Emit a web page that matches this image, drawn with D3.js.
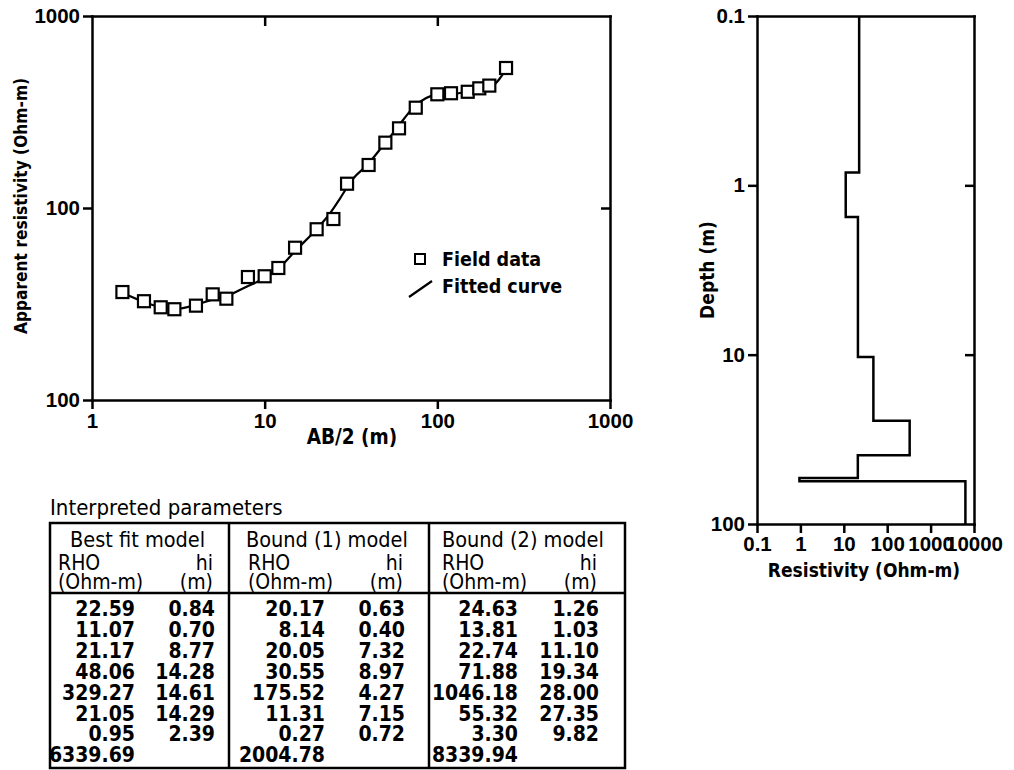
<!DOCTYPE html>
<html><head><meta charset="utf-8">
<script src="https://cdn.jsdelivr.net/npm/d3@7"></script>
<style>
html,body{margin:0;padding:0;background:#fff;}
svg{display:block;}
</style></head><body>
<svg id="fig" width="1014" height="770"></svg>
<script>
// ---- Schlumberger sounding: field data ----
const abHalf = [1.5, 2, 2.5, 3, 4, 5, 6, 8, 10, 12, 15, 20, 25, 30, 40, 50, 60, 75, 100, 120, 150, 175, 200, 250];
const rhoApparent = [36.5, 32.7, 30.4, 29.7, 31.0, 35.5, 33.7, 43.7, 44.1, 48.7, 62.1, 77.5, 87.6, 133.8, 167.5, 218.9, 260, 333, 391, 396, 403, 420, 434, 536];

// ---- fitted model response ----
const fitAB  = [1.47, 2.0, 2.48, 3.06, 4.0, 4.9, 6.05, 7.8, 10.0, 12.3, 15.2, 19.8, 21.8, 23.9, 27.3, 30.0, 32.5, 39.1, 50.4, 58.4, 73.2, 98, 121, 146, 174, 204, 253];
const fitRho = [36.5, 32.4, 30.5, 29.8, 31.3, 33.2, 34.8, 38.8, 43.2, 49.3, 60.4, 76.8, 84.8, 93.8, 112, 128, 142, 167, 221, 261, 336, 388, 392, 402, 417, 428, 536];

const soundingXTicks = [1, 10, 100, 1000];
const soundingXLabels = ["1", "10", "100", "1000"];
const soundingYTicks = [10, 100, 1000];
const soundingYLabels = ["100", "100", "1000"];

// ---- interpreted layered models ----
const bestRho   = [22.59, 11.07, 21.17, 48.06, 329.27, 21.05, 0.95, 6339.69];
const bestH     = [0.84, 0.70, 8.77, 14.28, 14.61, 14.29, 2.39];
const bound1Rho = [20.17, 8.14, 20.05, 30.55, 175.52, 11.31, 0.27, 2004.78];
const bound1H   = [0.63, 0.40, 7.32, 8.97, 4.27, 7.15, 0.72];
const bound2Rho = [24.63, 13.81, 22.74, 71.88, 1046.18, 55.32, 3.30, 8339.94];
const bound2H   = [1.26, 1.03, 11.10, 19.34, 28.00, 27.35, 9.82];

const depthTicks = [0.1, 1, 10, 100];
const depthLabels = ["0.1", "1", "10", "100"];
const resTicks = [0.1, 1, 10, 100, 1000, 10000];
const resLabels = ["0.1", "1", "10", "100", "1000", "10000"];

const modelNames = ["Best fit model", "Bound (1) model", "Bound (2) model"];

// ---- styling ----
const TXT = "'DejaVu Sans Condensed', 'DejaVu Sans', sans-serif";
const NUM = "'Liberation Sans', Arial, sans-serif";
const AXW = 2.5;

const svg = d3.select("#fig");

function styleAxis(g) {
  g.attr("font-family", NUM).attr("font-size", 20.5).attr("font-weight", "bold");
  g.selectAll("path.domain").attr("stroke-width", AXW).attr("stroke-linecap", "square");
  g.selectAll(".tick line").attr("stroke-width", AXW);
  g.selectAll(".tick text").attr("fill", "#000");
}

// ================= Sounding curve =================
const x = d3.scaleLog().domain([1, 1000]).range([92, 610]);
const y = d3.scaleLog().domain([10, 1000]).range([400, 16]);

svg.append("g").attr("transform", "translate(0,400)")
  .call(d3.axisBottom(x).tickValues(soundingXTicks)
    .tickFormat((d, i) => soundingXLabels[i]).tickSize(9).tickSizeOuter(0).tickPadding(4))
  .call(styleAxis);

svg.append("g").attr("transform", "translate(92,0)")
  .call(d3.axisLeft(y).tickValues(soundingYTicks)
    .tickFormat((d, i) => soundingYLabels[i]).tickSize(9).tickSizeOuter(0).tickPadding(3))
  .call(styleAxis);

svg.append("g").attr("transform", "translate(0,16)")
  .call(d3.axisTop(x).tickValues([10, 100]).tickFormat("").tickSize(-10).tickSizeOuter(0))
  .call(styleAxis);

svg.append("g").attr("transform", "translate(610,0)")
  .call(d3.axisRight(y).tickValues([100]).tickFormat("").tickSize(-9).tickSizeOuter(0))
  .call(styleAxis);

const fitted = fitAB.map((a, i) => [a, fitRho[i]]);
svg.append("path")
  .datum(fitted)
  .attr("fill", "none").attr("stroke", "#000").attr("stroke-width", 2.2)
  .attr("d", d3.line().x(d => x(d[0])).y(d => y(d[1])).curve(d3.curveMonotoneX));

const sq = 12;
svg.append("g").selectAll("rect")
  .data(abHalf.map((a, i) => [a, rhoApparent[i]]))
  .join("rect")
  .attr("x", d => x(d[0]) - sq / 2).attr("y", d => y(d[1]) - sq / 2)
  .attr("width", sq).attr("height", sq)
  .attr("fill", "#fff").attr("stroke", "#000").attr("stroke-width", 2.2);

svg.append("text")
  .attr("transform", "translate(27,206) rotate(-90)")
  .attr("text-anchor", "middle")
  .attr("font-family", TXT).attr("font-size", 17.2).attr("font-weight", "bold")
  .text("Apparent resistivity (Ohm-m)");

svg.append("text")
  .attr("x", 352).attr("y", 444)
  .attr("text-anchor", "middle")
  .attr("font-family", TXT).attr("font-size", 20.5).attr("font-weight", "bold")
  .text("AB/2 (m)");

// legend
const leg = svg.append("g").attr("font-family", TXT).attr("font-size", 19.5).attr("font-weight", "bold");
leg.append("rect").attr("x", 415).attr("y", 254).attr("width", 10).attr("height", 10)
  .attr("fill", "#fff").attr("stroke", "#000").attr("stroke-width", 2);
leg.append("text").attr("x", 442).attr("y", 266).text("Field data");
leg.append("line").attr("x1", 409).attr("y1", 297).attr("x2", 432).attr("y2", 281)
  .attr("stroke", "#000").attr("stroke-width", 2.2);
leg.append("text").attr("x", 442).attr("y", 293).text("Fitted curve");

// ================= Layered earth model =================
const xr = d3.scaleLog().domain([0.1, 10000]).range([757, 974]);
const yr = d3.scaleLog().domain([0.1, 100]).range([16, 524]);

svg.append("g").attr("transform", "translate(0,524)")
  .call(d3.axisBottom(xr).tickValues(resTicks)
    .tickFormat((d, i) => resLabels[i]).tickSize(9).tickSizeOuter(0).tickPadding(3))
  .call(styleAxis);

svg.append("g").attr("transform", "translate(757,0)")
  .call(d3.axisLeft(yr).tickValues(depthTicks)
    .tickFormat((d, i) => depthLabels[i]).tickSize(9).tickSizeOuter(0).tickPadding(3))
  .call(styleAxis);

svg.append("g").attr("transform", "translate(0,16)")
  .call(d3.axisTop(xr).tickValues([]).tickSizeOuter(0))
  .call(styleAxis);

svg.append("g").attr("transform", "translate(974,0)")
  .call(d3.axisRight(yr).tickValues([1, 10]).tickFormat("").tickSize(-9).tickSizeOuter(0))
  .call(styleAxis);

// step profile of the best fit model
const depths = Array.from(d3.cumsum(bestH));
const tops = [0.1, ...depths];
const bottoms = [...depths, 100];
const profile = [];
bestRho.forEach((r, i) => { profile.push([r, tops[i]]); profile.push([r, bottoms[i]]); });
svg.append("path")
  .datum(profile)
  .attr("fill", "none").attr("stroke", "#000").attr("stroke-width", 2.5)
  .attr("stroke-linejoin", "miter")
  .attr("d", d3.line().x(d => xr(d[0])).y(d => yr(d[1])));

svg.append("text")
  .attr("transform", "translate(714,270) rotate(-90)")
  .attr("text-anchor", "middle")
  .attr("font-family", TXT).attr("font-size", 19).attr("font-weight", "bold")
  .text("Depth (m)");

svg.append("text")
  .attr("x", 864).attr("y", 577)
  .attr("text-anchor", "middle")
  .attr("font-family", TXT).attr("font-size", 19).attr("font-weight", "bold")
  .text("Resistivity (Ohm-m)");

// ================= Parameter table =================
svg.append("text").attr("x", 50).attr("y", 515)
  .attr("font-family", TXT).attr("font-size", 22)
  .text("Interpreted parameters");

const tbl = svg.append("g");
const tLeft = 50, tRight = 625, tTop = 523, tBottom = 768, tHead = 593;
const colEdges = [tLeft, 229, 429, tRight];
tbl.append("rect").attr("x", tLeft).attr("y", tTop)
  .attr("width", tRight - tLeft).attr("height", tBottom - tTop)
  .attr("fill", "none").attr("stroke", "#000").attr("stroke-width", 2.5);
tbl.selectAll("line.col").data(colEdges.slice(1, 3)).join("line")
  .attr("x1", d => d).attr("x2", d => d).attr("y1", tTop).attr("y2", tBottom)
  .attr("stroke", "#000").attr("stroke-width", 2.5);
tbl.append("line").attr("x1", tLeft).attr("x2", tRight).attr("y1", tHead).attr("y2", tHead)
  .attr("stroke", "#000").attr("stroke-width", 2.5);

const models = [
  { rho: bestRho, h: bestH, name: modelNames[0], nameX: 70, leftX: 58, rhoR: 135, hR: 215 },
  { rho: bound1Rho, h: bound1H, name: modelNames[1], nameX: 246, leftX: 248, rhoR: 325, hR: 405 },
  { rho: bound2Rho, h: bound2H, name: modelNames[2], nameX: 442, leftX: 442, rhoR: 518, hR: 599 }
];
const rowY0 = 616, rowStep = 20.9;

models.forEach(m => {
  const g = tbl.append("g").attr("font-family", TXT);
  g.append("text").attr("x", m.nameX).attr("y", 547).attr("font-size", 21.5).text(m.name);
  g.append("text").attr("x", m.leftX).attr("y", 570).attr("font-size", 21).text("RHO");
  g.append("text").attr("x", m.leftX).attr("y", 589).attr("font-size", 21).text("(Ohm-m)");
  g.append("text").attr("x", m.hR - 2).attr("y", 570).attr("font-size", 21).attr("text-anchor", "end").text("hi");
  g.append("text").attr("x", m.hR - 2).attr("y", 589).attr("font-size", 21).attr("text-anchor", "end").text("(m)");
  g.selectAll("text.rho").data(m.rho).join("text")
    .attr("class", "rho")
    .attr("x", m.rhoR).attr("y", (d, i) => rowY0 + i * rowStep)
    .attr("text-anchor", "end").attr("font-size", 21).attr("font-weight", "bold")
    .text(d => d.toFixed(2));
  g.selectAll("text.hi").data(m.h).join("text")
    .attr("class", "hi")
    .attr("x", m.hR).attr("y", (d, i) => rowY0 + i * rowStep)
    .attr("text-anchor", "end").attr("font-size", 21).attr("font-weight", "bold")
    .text(d => d.toFixed(2));
});
</script>
</body></html>
